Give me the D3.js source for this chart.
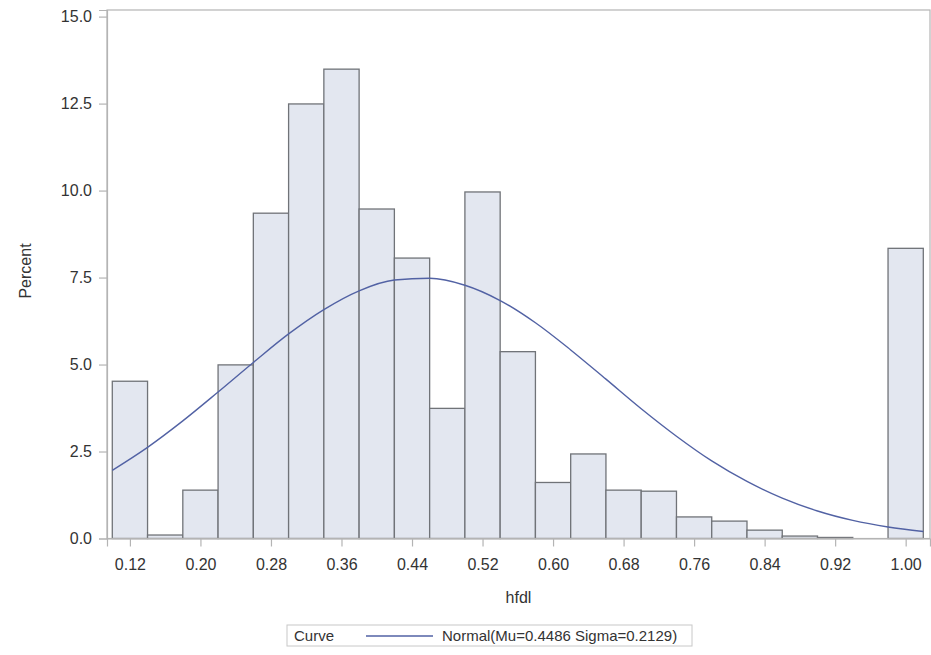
<!DOCTYPE html>
<html>
<head>
<meta charset="utf-8">
<script src="https://cdn.jsdelivr.net/npm/d3@7"></script>
<style>
  body { margin: 0; background: white; }
  text { font-family: "Liberation Sans", Arial, sans-serif; }
</style>
</head>
<body>
<div id="container"></div>
<script>
let w = 931;
let h = 655;

// histogram bins (midpoints) and percent
let midpoints = [0.12, 0.16, 0.20, 0.24, 0.28, 0.32, 0.36, 0.40, 0.44, 0.48, 0.52, 0.56,
  0.60, 0.64, 0.68, 0.72, 0.76, 0.80, 0.84, 0.88, 0.92, 0.96, 1.00];
let percents = [4.52, 0.10, 1.39, 4.99, 9.35, 12.49, 13.49, 9.47, 8.06, 3.74, 9.96, 5.37,
  1.61, 2.43, 1.39, 1.36, 0.62, 0.50, 0.24, 0.07, 0.03, 0, 8.34];
let binWidth = 0.04;

// normal curve
let curveX = [0.10, 0.14, 0.18, 0.22, 0.26, 0.30, 0.34, 0.38, 0.42, 0.46, 0.50, 0.54,
  0.58, 0.62, 0.66, 0.70, 0.74, 0.78, 0.82, 0.86, 0.90, 0.94, 0.98, 1.02];
let curveY = [1.96, 2.62, 3.38, 4.21, 5.06, 5.88, 6.58, 7.12, 7.43, 7.48, 7.28, 6.84,
  6.20, 5.42, 4.58, 3.73, 2.94, 2.23, 1.64, 1.16, 0.79, 0.52, 0.33, 0.20];

let xTicks = [0.12, 0.20, 0.28, 0.36, 0.44, 0.52, 0.60, 0.68, 0.76, 0.84, 0.92, 1.00];
let yTicks = [0, 2.5, 5, 7.5, 10, 12.5, 15];

let plotLeft = 107, plotRight = 930, plotTop = 10, plotBottom = 538.5;

let viz = d3.select("#container")
  .append("svg")
  .attr("width", w)
  .attr("height", h)
  .style("background-color", "white");

let xScale = d3.scaleLinear().domain([0.094, 1.0276]).range([plotLeft, plotRight]);
let yScale = d3.scaleLinear().domain([0, 15.19]).range([plotBottom, plotTop]);

let bins = midpoints.map(function(d, i) {
  return { mid: d, pct: percents[i] };
}).filter(function(d) { return d.pct > 0; });

// bars
viz.selectAll(".bar").data(bins).enter()
  .append("rect")
  .attr("class", "bar")
  .attr("x", function(d) { return xScale(d.mid - binWidth / 2); })
  .attr("y", function(d) { return yScale(d.pct); })
  .attr("width", function(d) { return xScale(d.mid + binWidth / 2) - xScale(d.mid - binWidth / 2); })
  .attr("height", function(d) { return plotBottom - yScale(d.pct); })
  .attr("fill", "#e3e7f0")
  .attr("stroke", "#707378")
  .attr("stroke-width", 1.3);

// normal curve
let line = d3.line()
  .x(function(d, i) { return xScale(curveX[i]); })
  .y(function(d) { return yScale(d); })
  .curve(d3.curveMonotoneX);

viz.append("path")
  .datum(curveY)
  .attr("d", line)
  .attr("fill", "none")
  .attr("stroke", "#5262a4")
  .attr("stroke-width", 1.4);

// frame
viz.append("rect")
  .attr("x", plotLeft)
  .attr("y", plotTop)
  .attr("width", plotRight - plotLeft)
  .attr("height", plotBottom - plotTop)
  .attr("fill", "none")
  .attr("stroke", "#b4b4b4")
  .attr("stroke-width", 1.2);

// axes
let xAxis = viz.append("g")
  .attr("transform", "translate(0," + plotBottom + ")")
  .call(d3.axisBottom(xScale).tickValues(xTicks).tickFormat(d3.format(".2f")).tickSize(8).tickPadding(12));

let yAxis = viz.append("g")
  .attr("transform", "translate(" + plotLeft + ",0)")
  .call(d3.axisLeft(yScale).tickValues(yTicks).tickFormat(d3.format(".1f")).tickSize(8).tickPadding(7));

[xAxis, yAxis].forEach(function(a) {
  a.select(".domain").attr("stroke", "#b4b4b4").attr("stroke-width", 1.2);
  a.selectAll(".tick line").attr("stroke", "#b4b4b4").attr("stroke-width", 1.2);
  a.selectAll(".tick text")
    .attr("fill", "#333333")
    .style("font-size", "16px")
    .style("font-family", "'Liberation Sans', Arial, sans-serif");
});

// axis labels
viz.append("text")
  .text("hfdl")
  .attr("x", (plotLeft + plotRight) / 2)
  .attr("y", 603)
  .attr("text-anchor", "middle")
  .attr("fill", "#333333")
  .attr("font-size", "16px");

viz.append("text")
  .text("Percent")
  .attr("transform", "translate(31,271) rotate(-90)")
  .attr("text-anchor", "middle")
  .attr("fill", "#333333")
  .attr("font-size", "16px");

// legend
let legend = viz.append("g");
legend.append("rect")
  .attr("x", 287)
  .attr("y", 625)
  .attr("width", 405)
  .attr("height", 21)
  .attr("fill", "white")
  .attr("stroke", "#c8c8c8");
legend.append("text")
  .text("Curve")
  .attr("x", 294)
  .attr("y", 641)
  .attr("fill", "#333333")
  .attr("font-size", "15px");
legend.append("line")
  .attr("x1", 366)
  .attr("x2", 433)
  .attr("y1", 636)
  .attr("y2", 636)
  .attr("stroke", "#5262a4")
  .attr("stroke-width", 1.4);
legend.append("text")
  .text("Normal(Mu=0.4486 Sigma=0.2129)")
  .attr("x", 442)
  .attr("y", 641)
  .attr("fill", "#333333")
  .attr("font-size", "15px");
</script>
</body>
</html>
